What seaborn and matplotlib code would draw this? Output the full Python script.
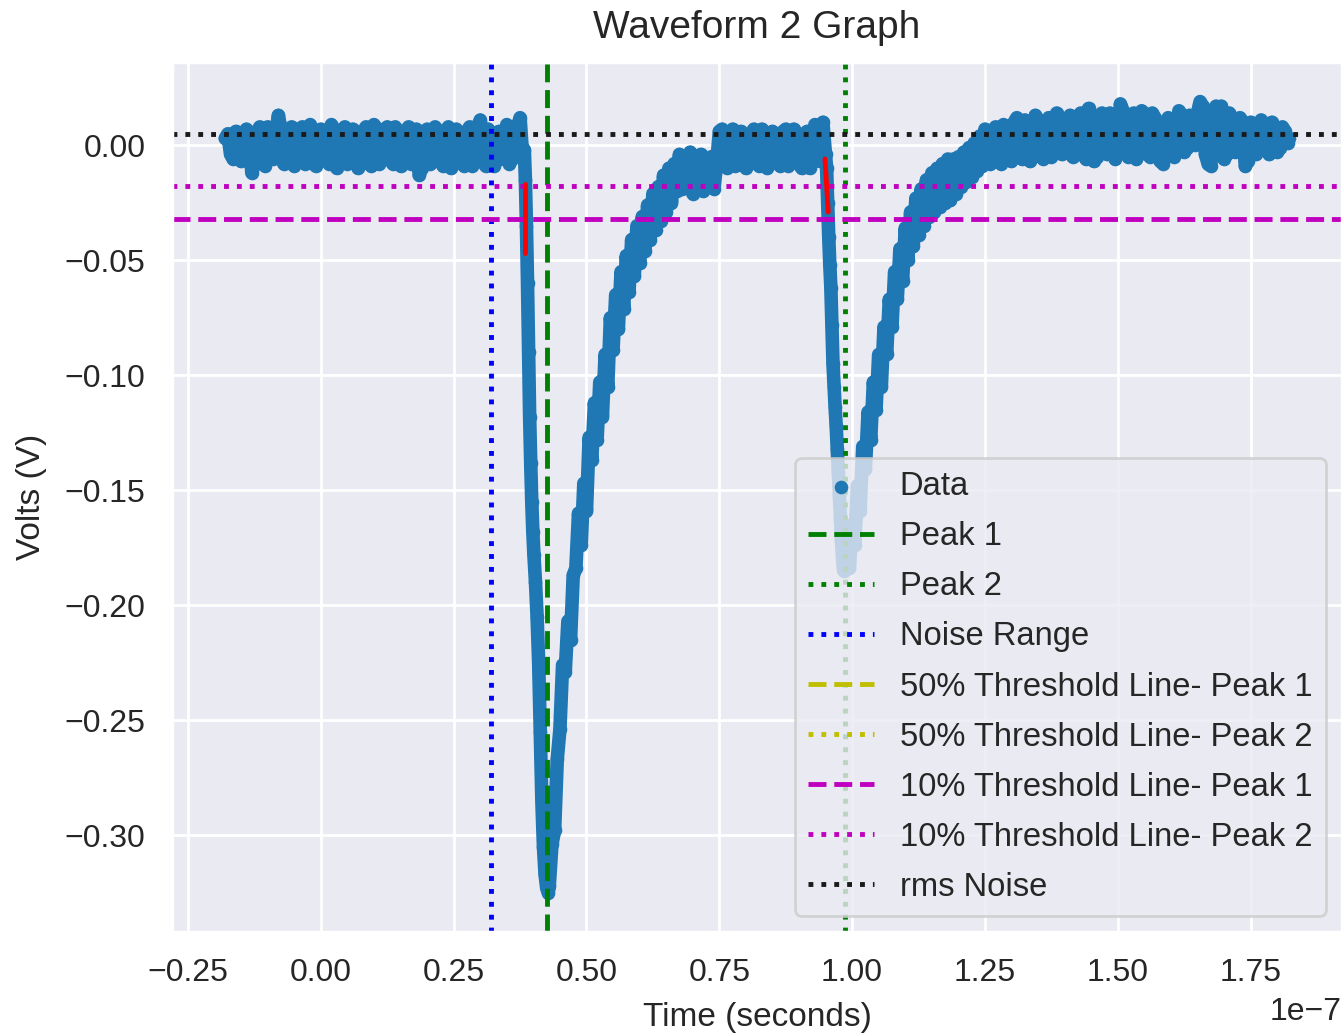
import numpy as np
import pandas as pd
import matplotlib
matplotlib.use("Agg")
import matplotlib.pyplot as plt
import seaborn as sns

# ---------------- data (time in ns, voltage in V) ----------------
base1 = [(-18.0, 0.003), (-17.5, 0.005), (-17.0, -0.004), (-16.5, -0.006), (-16.0, 0.006),
         (-15.5, 0.004), (-15.0, -0.007), (-14.5, -0.005), (-14.0, 0.007), (-13.5, 0.005),
         (-13.0, -0.012), (-12.5, -0.008), (-12.0, 0.006), (-11.5, 0.008), (-11.0, -0.007),
         (-10.5, -0.009), (-10.0, 0.008), (-9.5, 0.006), (-9.0, -0.006), (-8.5, 0.004),
         (-8.0, 0.013), (-7.5, 0.007), (-7.0, -0.008), (-6.5, -0.006), (-6.0, 0.007),
         (-5.5, 0.008), (-5.0, -0.009), (-4.5, -0.007), (-4.0, 0.006), (-3.5, 0.008),
         (-3.0, -0.008), (-2.5, -0.006), (-2.0, 0.009), (-1.5, 0.006), (-1.0, -0.009),
         (-0.5, -0.007), (0.0, 0.007), (0.5, 0.005), (1.0, -0.006), (1.5, -0.008),
         (2.0, 0.009), (2.5, 0.007), (3.0, -0.010), (3.5, -0.007), (4.0, 0.006),
         (4.5, 0.008), (5.0, -0.008), (5.5, -0.006), (6.0, 0.007), (6.5, 0.005),
         (7.0, -0.010), (7.5, -0.008), (8.0, 0.006), (8.5, 0.008), (9.0, -0.007),
         (9.5, -0.009), (10.0, 0.009), (10.5, 0.007), (11.0, -0.008), (11.5, -0.006),
         (12.0, 0.007), (12.5, 0.008), (13.0, -0.006), (13.5, -0.008), (14.0, 0.008),
         (14.5, 0.006), (15.0, -0.009), (15.5, -0.007), (16.0, 0.006), (16.5, 0.008),
         (17.0, -0.008), (17.5, -0.006), (18.0, 0.007), (18.5, -0.013), (19.0, -0.010),
         (19.5, 0.005), (20.0, 0.007), (20.5, -0.008), (21.0, -0.006), (21.5, 0.008),
         (22.0, 0.006), (22.5, -0.007), (23.0, -0.009), (23.5, 0.006), (24.0, 0.008),
         (24.5, -0.010), (25.0, -0.008), (25.5, 0.007), (26.0, 0.005), (26.5, -0.007),
         (27.0, -0.009), (27.5, 0.006), (28.0, 0.008), (28.5, -0.009), (29.0, -0.007),
         (29.5, 0.008), (30.0, 0.011), (30.5, -0.007), (31.0, -0.009), (31.5, 0.007),
         (32.0, 0.005), (32.5, -0.009), (33.0, -0.007), (33.5, 0.006), (34.0, 0.004),
         (34.5, -0.006), (35.0, 0.009), (35.5, -0.008), (36.0, -0.006), (36.5, 0.006),
         (37.0, 0.008), (37.5, 0.012), (38.0, -0.005)]

t_fall1 = [38.3, 38.5, 38.7, 38.9, 39.1, 39.3, 39.5, 39.7, 39.9, 40.1, 40.4, 40.7,
           41.0, 41.3, 41.6, 41.9, 42.2, 42.5, 42.8]
v_fall1 = [-0.002, -0.015, -0.035, -0.060, -0.090, -0.118, -0.138, -0.155, -0.168,
           -0.178, -0.190, -0.205, -0.225, -0.255, -0.285, -0.305, -0.317, -0.323, -0.325]

t_rise1 = [43.0, 43.5, 44.0, 44.5, 45.0, 45.5, 46.0, 46.5, 47.0, 47.5, 48.0, 48.5, 49.0,
           49.5, 50.0, 50.5, 51.0, 51.5, 52.0, 52.5, 53.0, 53.5, 54.0, 54.5, 55.0, 55.5,
           56.0, 56.5, 57.0, 57.5, 58.0, 58.5, 59.0, 59.5, 60.0, 60.5, 61.0, 61.5, 62.0,
           62.5, 63.0, 63.5, 64.0, 64.5, 65.0, 65.5, 66.0]
v_rise1 = [-0.322, -0.304, -0.298, -0.267, -0.254, -0.226, -0.229, -0.207, -0.215,
           -0.187, -0.184, -0.160, -0.174, -0.147, -0.159, -0.127, -0.137, -0.112,
           -0.128, -0.103, -0.118, -0.091, -0.105, -0.075, -0.089, -0.065, -0.080,
           -0.055, -0.071, -0.048, -0.064, -0.041, -0.057, -0.035, -0.051, -0.031,
           -0.046, -0.026, -0.041, -0.021, -0.037, -0.018, -0.033, -0.013, -0.029,
           -0.010, -0.025]

t_shelf = [66.5, 67.0, 67.5, 68.0, 68.5, 69.0, 69.5, 70.0, 70.5, 71.0, 71.5, 72.0,
           72.5, 73.0, 73.5, 74.0, 74.5]
v_shelf = [-0.008, -0.020, -0.004, -0.019, -0.006, -0.018, -0.003, -0.021, -0.007,
           -0.017, -0.004, -0.020, -0.006, -0.016, -0.005, -0.019, -0.008]

base2 = [(75.0, 0.006), (75.5, 0.007), (76.0, -0.008), (76.5, -0.010), (77.0, 0.005),
         (77.5, 0.007), (78.0, -0.009), (78.5, -0.007), (79.0, 0.006), (79.5, 0.004),
         (80.0, -0.010), (80.5, -0.008), (81.0, 0.005), (81.5, 0.007), (82.0, -0.007),
         (82.5, -0.009), (83.0, 0.007), (83.5, 0.005), (84.0, -0.010), (84.5, -0.008),
         (85.0, 0.006), (85.5, 0.004), (86.0, -0.007), (86.5, -0.009), (87.0, 0.006),
         (87.5, 0.007), (88.0, -0.009), (88.5, -0.007), (89.0, 0.007), (89.5, 0.005),
         (90.0, -0.008), (90.5, -0.010), (91.0, 0.005), (91.5, 0.006), (92.0, -0.010),
         (92.5, -0.007), (93.0, 0.009), (93.5, 0.007), (94.0, -0.007), (94.5, 0.010),
         (95.0, -0.004)]

t_fall2 = [95.2, 95.4, 95.6, 95.8, 96.0, 96.2, 96.4, 96.6, 96.8, 97.0, 97.2, 97.4,
           97.6, 97.8, 98.0, 98.2, 98.4]
v_fall2 = [-0.010, -0.025, -0.040, -0.052, -0.062, -0.078, -0.095, -0.105, -0.114,
           -0.122, -0.132, -0.142, -0.152, -0.163, -0.172, -0.180, -0.185]

t_rise2 = [98.7, 99.0, 99.5, 100.0, 100.5, 101.0, 101.5, 102.0, 102.5, 103.0, 103.5,
           104.0, 104.5, 105.0, 105.5, 106.0, 106.5, 107.0, 107.5, 108.0, 108.5, 109.0,
           109.5, 110.0, 110.5, 111.0, 111.5, 112.0, 112.5, 113.0, 113.5, 114.0, 114.5,
           115.0, 115.5, 116.0, 116.5, 117.0, 117.5, 118.0, 118.5, 119.0, 119.5, 120.0,
           120.5, 121.0, 121.5, 122.0, 122.5, 123.0, 123.5, 124.0, 124.5, 125.0]
v_rise2 = [-0.184, -0.176, -0.184, -0.165, -0.174, -0.148, -0.159, -0.131, -0.141,
           -0.116, -0.128, -0.103, -0.115, -0.091, -0.105, -0.079, -0.091, -0.067,
           -0.079, -0.055, -0.067, -0.045, -0.059, -0.036, -0.050, -0.029, -0.044,
           -0.023, -0.039, -0.019, -0.035, -0.015, -0.031, -0.012, -0.029, -0.010,
           -0.027, -0.008, -0.025, -0.006, -0.024, -0.006, -0.021, -0.005, -0.018,
           -0.003, -0.016, -0.001, -0.014, 0.001, -0.011, 0.004, -0.009, 0.007]

base3 = [(125.5, -0.005), (126.0, -0.008), (126.5, 0.006), (127.0, 0.008), (127.5, -0.006),
         (128.0, -0.008), (128.5, 0.009), (129.0, 0.007), (129.5, -0.005), (130.0, -0.007),
         (130.5, 0.010), (131.0, 0.012), (131.5, -0.004), (132.0, -0.006), (132.5, 0.011),
         (133.0, 0.009), (133.5, -0.007), (134.0, -0.005), (134.5, 0.013), (135.0, 0.011),
         (135.5, -0.004), (136.0, -0.006), (136.5, 0.010), (137.0, 0.012), (137.5, -0.005),
         (138.0, -0.003), (138.5, 0.014), (139.0, 0.012), (139.5, -0.004), (140.0, -0.002),
         (140.5, 0.011), (141.0, 0.013), (141.5, -0.005), (142.0, -0.003), (142.5, 0.012),
         (143.0, 0.014), (143.5, -0.004), (144.0, -0.006), (144.5, 0.016), (145.0, 0.013),
         (145.5, -0.007), (146.0, -0.005), (146.5, 0.012), (147.0, 0.014), (147.5, -0.002),
         (148.0, -0.004), (148.5, 0.014), (149.0, 0.012), (149.5, -0.006), (150.0, -0.004),
         (150.5, 0.018), (151.0, 0.015), (151.5, -0.003), (152.0, -0.005), (152.5, 0.012),
         (153.0, 0.014), (153.5, -0.006), (154.0, -0.004), (154.5, 0.015), (155.0, 0.013),
         (155.5, -0.003), (156.0, -0.005), (156.5, 0.014), (157.0, 0.012), (157.5, -0.004),
         (158.0, -0.007), (158.5, -0.008), (159.0, 0.004), (159.5, 0.012), (160.0, 0.010),
         (160.5, -0.005), (161.0, -0.003), (161.5, 0.015), (162.0, 0.013), (162.5, -0.003),
         (163.0, -0.001), (163.5, 0.013), (164.0, 0.011), (164.5, 0.000), (165.0, 0.014),
         (165.5, 0.019), (166.0, 0.017), (166.5, -0.004), (167.0, -0.008), (167.5, -0.009),
         (168.0, 0.006), (168.5, 0.017), (169.0, 0.015), (169.5, 0.017), (170.0, -0.006),
         (170.5, -0.004), (171.0, 0.014), (171.5, 0.012), (172.0, -0.003), (172.5, -0.001),
         (173.0, 0.012), (173.5, 0.010), (174.0, -0.009), (174.5, -0.007), (175.0, 0.010),
         (175.5, 0.008), (176.0, -0.004), (176.5, -0.002), (177.0, 0.011), (177.5, 0.009),
         (178.0, -0.002), (178.5, -0.004), (179.0, 0.010), (179.5, 0.008), (180.0, -0.003),
         (180.5, -0.001), (181.0, 0.008), (181.5, 0.006), (182.0, 0.001), (182.2, 0.003)]

# reference markers (ns, V)
peak1_t = 42.5
peak2_t = 98.7
noise_range_t = 32.0
thr10_peak1 = -0.0321
thr10_peak2 = -0.0178
rms_noise = 0.0049
red1_t = [38.5, 38.5]
red1_v = [-0.017, -0.047]
red2_t = [94.9, 95.5]
red2_v = [-0.006, -0.029]

# ---------------- figure ----------------
sns.set_theme(style="darkgrid")
plt.rcParams["font.family"] = ["Liberation Sans", "DejaVu Sans"]

t_base1 = [p[0] for p in base1]
v_base1 = [p[1] for p in base1]
t_base2 = [p[0] for p in base2]
v_base2 = [p[1] for p in base2]
t_base3 = [p[0] for p in base3]
v_base3 = [p[1] for p in base3]

time_ns = t_base1 + t_fall1 + t_rise1 + t_shelf + t_base2 + t_fall2 + t_rise2 + t_base3
volts = v_base1 + v_fall1 + v_rise1 + v_shelf + v_base2 + v_fall2 + v_rise2 + v_base3
df = pd.DataFrame({"Time": np.array(time_ns) * 1e-9, "Volts": volts})

fig = plt.figure(figsize=(6.71, 5.17), dpi=200)
ax = fig.add_axes([0.1282, 0.0986, 0.8718, 0.8414])

blue = "#1f77b4"
GREEN = (0.0, 0.5, 0.0)
BLUE = (0.0, 0.0, 1.0)
YELLOW = (0.75, 0.75, 0.0)
MAGENTA = (0.75, 0.0, 0.75)
RED = (1.0, 0.0, 0.0)
LW = 1.75

sns.lineplot(data=df, x="Time", y="Volts", ax=ax, color=blue, lw=4.9,
             estimator=None, sort=False, legend=False, label="_nolegend_",
             solid_capstyle="round", solid_joinstyle="round")
sns.scatterplot(data=df, x="Time", y="Volts", ax=ax, color=blue, s=24,
                linewidth=0, label="Data")

ax.axvline(peak1_t * 1e-9, color=GREEN, ls="--", lw=LW, label="Peak 1")
ax.axvline(peak2_t * 1e-9, color=GREEN, ls=":", lw=LW, label="Peak 2")
ax.axvline(noise_range_t * 1e-9, color=BLUE, ls=":", lw=LW, label="Noise Range")
ax.plot([], [], color=YELLOW, ls="--", lw=LW, label="50% Threshold Line- Peak 1")
ax.plot([], [], color=YELLOW, ls=":", lw=LW, label="50% Threshold Line- Peak 2")
ax.axhline(thr10_peak1, color=MAGENTA, ls="--", lw=LW, label="10% Threshold Line- Peak 1")
ax.axhline(thr10_peak2, color=MAGENTA, ls=":", lw=LW, label="10% Threshold Line- Peak 2")
ax.axhline(rms_noise, color="k", ls=":", lw=LW, label="rms Noise")
ax.plot(np.array(red1_t) * 1e-9, red1_v, color=RED, lw=LW)
ax.plot(np.array(red2_t) * 1e-9, red2_v, color=RED, lw=LW)

ax.set_title("Waveform 2 Graph", fontsize=14, pad=8.5)
ax.set_xlabel("Time (seconds)", fontsize=12, labelpad=5)
ax.set_ylabel("Volts (V)", fontsize=12, labelpad=6.5)
ax.tick_params(labelsize=11.5)
ax.xaxis.get_offset_text().set_fontsize(11.5)
ax.legend(loc="lower right", fontsize=11.8, labelspacing=0.58)

fig.savefig("out.png", dpi=200)
